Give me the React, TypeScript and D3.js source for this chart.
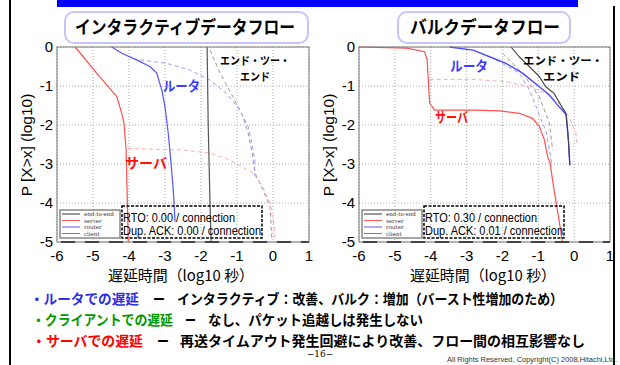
import React from "react";
import * as d3 from "d3";

const xTicks = [-6, -5, -4, -3, -2, -1, 0, 1];
const yTicks = [0, -1, -2, -3, -4, -5];
const legendNames = ["end-to-end", "server", "router", "client"];
const legendColors = ["#333", "#ff5a5a", "#5a5aff", "#3cb43c"];

type Pt = [number, number];

// インタラクティブデータフロー
const iEndSolid: Pt[] = [[-1.83, 0], [-1.8, -2], [-1.75, -4], [-1.72, -5]];
const iEndDash: Pt[] = [[-1.75, -0.08], [-1.47, -0.67], [-1.11, -1.28], [-0.83, -1.79], [-0.69, -2.21], [-0.58, -2.72], [-0.5, -3.23], [-0.28, -3.67], [-0.08, -4.1], [-0.03, -4.95]];
const iServerSolid: Pt[] = [[-5.5, 0], [-5.27, -0.25], [-4.9, -0.67], [-4.57, -1.02], [-4.34, -1.27], [-4.2, -1.7], [-4.14, -1.95], [-4.08, -2.64], [-4.02, -5]];
const iServerDash: Pt[] = [[-4.03, -2.6], [-2.5, -2.64], [-1.75, -2.72], [-1.19, -2.9], [-0.72, -3.15], [-0.55, -3.23], [-0.28, -3.59], [-0.08, -4.0], [0.03, -4.6], [0.06, -4.95]];
const iRouterSolid: Pt[] = [[-4.48, 0], [-4.2, -0.16], [-3.79, -0.33], [-3.42, -0.5], [-3.23, -0.67], [-3.09, -1.1], [-3.0, -1.53], [-2.91, -2.21], [-2.84, -2.9], [-2.77, -3.67], [-2.72, -4.48]];
const iRouterDash: Pt[] = [[-3.69, -0.33], [-2.95, -0.42], [-2.31, -0.59], [-1.75, -0.85], [-1.29, -1.19], [-0.92, -1.62], [-0.69, -2.04], [-0.59, -2.47], [-0.5, -2.9], [-0.52, -3.3]];

// バルクデータフロー
const bEndSolid: Pt[] = [[-1.76, 0], [-1.53, -0.25], [-1.25, -0.5], [-0.97, -0.76], [-0.79, -1.02], [-0.56, -1.19], [-0.37, -1.49], [-0.23, -1.7], [-0.16, -2.38], [-0.12, -3.03]];
const bEndDash: Pt[] = [[-2.0, -0.16], [-1.44, -0.67], [-0.97, -1.28], [-0.69, -1.95], [-0.6, -2.64]];
const bServerSolid: Pt[] = [[-6, 0], [-4.67, -0.03], [-4.17, -0.12], [-4.1, -0.33], [-4.03, -1.44], [-3.89, -1.62], [-2.82, -1.62], [-2.08, -1.64], [-1.53, -1.7], [-1.16, -1.83], [-0.97, -2.04], [-0.83, -2.38], [-0.74, -2.81], [-0.67, -2.98], [-0.56, -3.67], [-0.42, -4.44], [-0.33, -5]];
const bServerDash: Pt[] = [[-4.03, -0.83], [-2.82, -0.83], [-1.9, -0.89], [-1.25, -1.02], [-0.79, -1.19], [-0.42, -1.44], [-0.14, -1.79], [0.05, -2.21], [0.07, -2.45]];
const bRouterSolid: Pt[] = [[-3.47, 0], [-2.82, -0.08], [-2.36, -0.25], [-1.9, -0.42], [-1.44, -0.67], [-0.97, -1.02], [-0.69, -1.23], [-0.46, -1.49], [-0.33, -1.62], [-0.22, -1.74], [-0.16, -2.38], [-0.12, -3.03]];
const bRouterDash: Pt[] = [[-2.18, -0.33], [-1.53, -0.67], [-1.25, -1.1], [-1.06, -1.53], [-0.88, -1.96], [-0.79, -2.13], [-0.74, -2.38], [-0.65, -2.85], [-0.62, -3.0]];

type Series = { pts: Pt[]; color: string; dash?: string; w?: number };

const interSeries: Series[] = [
  { pts: iEndDash, color: "#9a9a9a", dash: "4,3" },
  { pts: iRouterDash, color: "#9c9cff", dash: "4,3" },
  { pts: iServerDash, color: "#ffaaaa", dash: "4,3" },
  { pts: iEndSolid, color: "#555", w: 1.2 },
  { pts: iServerSolid, color: "#ff5050", w: 1.2 },
  { pts: iRouterSolid, color: "#5555ff", w: 1.2 },
];
const bulkSeries: Series[] = [
  { pts: bEndDash, color: "#9a9a9a", dash: "4,3" },
  { pts: bRouterDash, color: "#9c9cff", dash: "4,3" },
  { pts: bServerDash, color: "#ffaaaa", dash: "4,3" },
  { pts: bServerSolid, color: "#ff5050", w: 1.2 },
  { pts: bRouterSolid, color: "#4a4aff", w: 1.4 },
  { pts: bEndSolid, color: "#444", w: 1.1 },
];

const JP = "'Noto Sans CJK JP', sans-serif";
const AR = "'Liberation Sans', Arial, sans-serif";

function Panel(props: {
  left: number; right: number; series: Series[]; rto: string; dup: string;
  yTitleX: number; xTitleX: number;
}) {
  const { left, right, series } = props;
  const x = d3.scaleLinear().domain([-6, 1]).range([left, right]);
  const y = d3.scaleLinear().domain([0, -5]).range([47, 242]);
  const line = d3.line<Pt>().x((d) => x(d[0])).y((d) => y(d[1]));
  return (
    <g>
      <rect x={left} y={47} width={right - left} height={195} fill="#fff" />
      {xTicks.map((t) => (
        <line key={"gx" + t} x1={x(t)} x2={x(t)} y1={47} y2={242} stroke="#aaa" strokeDasharray="1,2" />
      ))}
      {yTicks.map((t) => (
        <line key={"gy" + t} x1={left} x2={right} y1={y(t)} y2={y(t)} stroke="#aaa" strokeDasharray="1,2" />
      ))}
      {series.map((s, i) => (
        <path key={i} d={line(s.pts) || ""} fill="none" stroke={s.color} strokeWidth={s.w || 1} strokeDasharray={s.dash} />
      ))}
      <line x1={left} x2={right} y1={y(-5)} y2={y(-5)} stroke="#111" strokeWidth={2.2} strokeDasharray="14,10" strokeDashoffset={-4} />
      <rect x={left} y={47} width={right - left} height={195} fill="none" stroke="#777" strokeWidth={1} />
      {xTicks.map((t) => (
        <text key={"tx" + t} x={x(t)} y={261} textAnchor="middle" fontFamily={AR} fontSize={15}>{t}</text>
      ))}
      {yTicks.map((t) => (
        <text key={"ty" + t} x={left - 4} y={y(t) + 5} textAnchor="end" fontFamily={AR} fontSize={15}>{t}</text>
      ))}
      <text transform={`translate(${props.yTitleX},145) rotate(-90)`} textAnchor="middle" fontFamily={AR} fontSize={15.5}>P [X&gt;x] (log10)</text>
      <text x={props.xTitleX} y={281} textAnchor="middle" fontFamily={JP} fontSize={15} textLength={146} lengthAdjust="spacingAndGlyphs">遅延時間（log10 秒）</text>
      {/* legend */}
      <rect x={left + 3} y={210} width={60} height={28} fill="#fff" stroke="#888" strokeWidth={1.5} />
      {legendNames.map((n, i) => (
        <g key={n}>
          <line x1={left + 5} x2={left + 23} y1={214 + i * 6.5} y2={214 + i * 6.5} stroke={legendColors[i]} strokeWidth={1} />
          <text x={left + 27} y={216 + i * 6.5} fontFamily="'DejaVu Serif', serif" fontSize={5.5} fill="#333">{n}</text>
        </g>
      ))}
      {/* annotation */}
      <rect x={left + 65} y={206} width={140} height={32} fill="none" stroke="#000" strokeWidth={1.5} strokeDasharray="3,1.5" />
      <text x={left + 66} y={222} fontFamily={AR} fontSize={12} textLength={112} lengthAdjust="spacingAndGlyphs">{props.rto}</text>
      <text x={left + 66} y={235} fontFamily={AR} fontSize={12} textLength={138} lengthAdjust="spacingAndGlyphs">{props.dup}</text>
    </g>
  );
}

function Label(p: { x: number; y: number; len: number; fill: string; size?: number; children: string; anchor?: string }) {
  return (
    <text x={p.x} y={p.y} fill={p.fill} fontFamily={JP} fontWeight="bold" fontSize={p.size || 14}
      textLength={p.len} lengthAdjust="spacingAndGlyphs" textAnchor={p.anchor || "start"}>{p.children}</text>
  );
}

export default function App() {
  return (
    <svg width={620} height={365} style={{ position: "absolute", left: 0, top: 0, background: "#fff" }}>
      <rect x={0} y={0} width={620} height={365} fill="#fff" />
      <rect x={57} y={0} width={521} height={7} fill="#0000ff" />
      <line x1={10} x2={10} y1={0} y2={365} stroke="#000" strokeWidth={2} />
      <line x1={614} x2={614} y1={6} y2={365} stroke="#000" strokeWidth={2} />

      <rect x={65} y={12} width={243} height={31} rx={9} fill="#fff" stroke="#c4c4ff" strokeWidth={2} />
      <Label x={75} y={34} len={220} fill="#000" size={18}>インタラクティブデータフロー</Label>
      <rect x={398} y={12} width={172} height={31} rx={9} fill="#fff" stroke="#c4c4ff" strokeWidth={2} />
      <Label x={410} y={34} len={150} fill="#000" size={18}>バルクデータフロー</Label>

      <Panel left={57} right={309} series={interSeries} rto="RTO: 0.00 / connection" dup="Dup. ACK: 0.00 / connection" yTitleX={32} xTitleX={181} />
      <Panel left={359} right={610} series={bulkSeries} rto="RTO: 0.30 / connection" dup="Dup. ACK: 0.01 / connection" yTitleX={334} xTitleX={483} />

      <Label x={220} y={65} len={70} fill="#000" size={11}>エンド・ツー・</Label>
      <Label x={240} y={81} len={30} fill="#000" size={11}>エンド</Label>
      <Label x={163} y={91} len={37} fill="#3c3cff">ルータ</Label>
      <Label x={125} y={168} len={42} fill="#ff1010">サーバ</Label>
      <Label x={523} y={65} len={80} fill="#000" size={11}>エンド・ツー・</Label>
      <Label x={543} y={81} len={37} fill="#000" size={11}>エンド</Label>
      <Label x={450} y={71} len={38} fill="#3c3cff">ルータ</Label>
      <Label x={435} y={122} len={33} fill="#ff1010">サーバ</Label>

      <Label x={30} y={304} len={109} fill="#3030e0">・ルータでの遅延</Label>
      <Label x={153} y={304} len={12} fill="#000">ー</Label>
      <Label x={177} y={304} len={386} fill="#000">インタラクティブ：改善、バルク：増加（バースト性増加のため）</Label>
      <Label x={32} y={325} len={141} fill="#009a00">・クライアントでの遅延</Label>
      <Label x={185} y={325} len={11} fill="#000">ー</Label>
      <Label x={208} y={325} len={215} fill="#000">なし、パケット追越しは発生しない</Label>
      <Label x={32} y={346} len={111} fill="#ff0000">・サーバでの遅延</Label>
      <Label x={157} y={346} len={12} fill="#000">ー</Label>
      <Label x={180} y={346} len={405} fill="#000">再送タイムアウト発生回避により改善、フロー間の相互影響なし</Label>

      <text x={320} y={357} textAnchor="middle" fontFamily="'DejaVu Serif', serif" fontSize={9}>−16−</text>
      <text x={617} y={362} textAnchor="end" fontFamily={AR} fontSize={6.5} textLength={170} lengthAdjust="spacingAndGlyphs" fill="#333">All Rights Reserved, Copyright(C) 2008,Hitachi,Ltd.</text>
    </svg>
  );
}
